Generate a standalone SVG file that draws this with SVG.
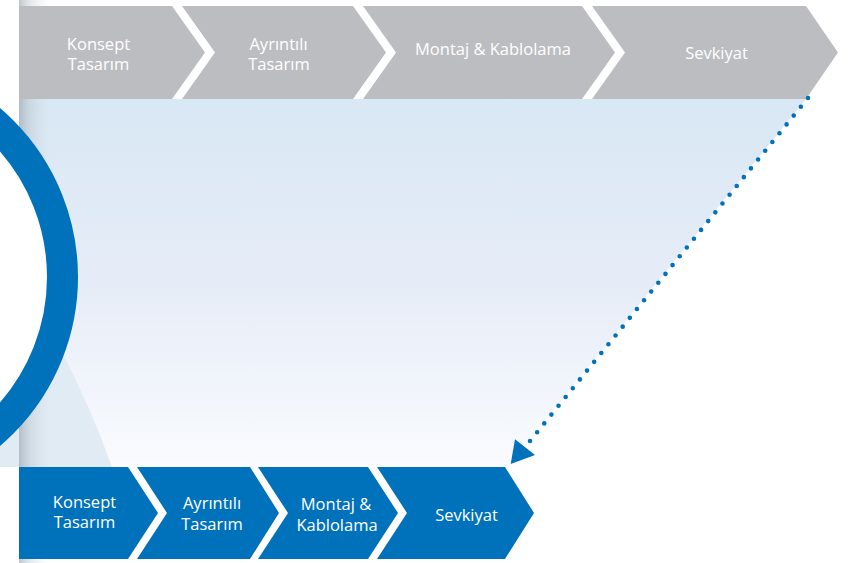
<svg xmlns="http://www.w3.org/2000/svg" width="859" height="563" viewBox="0 0 859 563">
<defs>
<linearGradient id="bg" x1="0" y1="99" x2="0" y2="466" gradientUnits="userSpaceOnUse">
<stop offset="0" stop-color="#d8e8f4"/>
<stop offset="0.5" stop-color="#e6ecf7"/>
<stop offset="1" stop-color="#f9fbfe"/>
</linearGradient>
<linearGradient id="shade" x1="19" y1="0" x2="50" y2="0" gradientUnits="userSpaceOnUse">
<stop offset="0" stop-color="#8e99a4" stop-opacity="0.55"/>
<stop offset="0.35" stop-color="#a9b3bc" stop-opacity="0.3"/>
<stop offset="1" stop-color="#c8d0d8" stop-opacity="0"/>
</linearGradient>
<style>
.g{fill:#bcbdc0}
.b{fill:#0071bb}
.t{font-family:"Open Sans","Noto Sans","Liberation Sans",sans-serif;font-size:16.5px;fill:#ffffff;text-anchor:middle}
.dots{fill:none;stroke:#0071bb;stroke-width:4.6;stroke-linecap:round;stroke-dasharray:0 11.32}
.head{fill:#0071bb}
</style>
</defs>
<rect width="859" height="563" fill="#ffffff"/>
<polygon points="19,99 806,99 508,466 19,466" fill="url(#bg)"/>
<path d="M0,300 L58,345 Q90,405 112,467 L0,467 Z" fill="#e1ebf4"/>
<rect x="19" y="0" width="32" height="563" fill="url(#shade)"/>
<circle cx="-144" cy="277" r="206.5" fill="#ffffff" stroke="#0071bb" stroke-width="31"/>

<g id="top-konsept">
<polygon class="g" points="19,6 172,6 205,52.5 172,99 19,99"/>
<text class="t" x="98.5" y="49.5">Konsept</text>
<text class="t" x="98.5" y="70">Tasarım</text>
</g>
<g id="top-ayrintili">
<polygon class="g" points="182,6 353,6 386,52.5 353,99 182,99 215,52.5"/>
<text class="t" x="278.5" y="49.5">Ayrıntılı</text>
<text class="t" x="279" y="70">Tasarım</text>
</g>
<g id="top-montaj">
<polygon class="g" points="363,6 582,6 615,52.5 582,99 363,99 396,52.5"/>
<text class="t" x="493" y="55">Montaj &amp; Kablolama</text>
</g>
<g id="top-sevkiyat">
<polygon class="g" points="592,6 806,6 838,52.5 806,99 592,99 625,52.5"/>
<text class="t" x="716.5" y="59">Sevkiyat</text>
</g>

<g id="bottom-konsept">
<polygon class="b" points="19,467 128,467 158,513 128,559 19,559"/>
<text class="t" x="84.5" y="508">Konsept</text>
<text class="t" x="84.5" y="527.5">Tasarım</text>
</g>
<g id="bottom-ayrintili">
<polygon class="b" points="137,467 250,467 279,513 250,559 137,559 167,513"/>
<text class="t" x="212" y="509">Ayrıntılı</text>
<text class="t" x="212" y="529.5">Tasarım</text>
</g>
<g id="bottom-montaj">
<polygon class="b" points="258,467 368,467 398,513 368,559 258,559 288,513"/>
<text class="t" x="336" y="510">Montaj &amp;</text>
<text class="t" x="337" y="530.5">Kablolama</text>
</g>
<g id="bottom-sevkiyat">
<polygon class="b" points="377,467 505,467 534,513 505,559 377,559 407,513"/>
<text class="t" x="466.5" y="520.7">Sevkiyat</text>
</g>

<g id="connectors">
<line class="dots" x1="808" y1="98" x2="530" y2="441"/>
<polygon class="head" points="515,439.3 535,455 510.7,464"/>
</g>
</svg>
